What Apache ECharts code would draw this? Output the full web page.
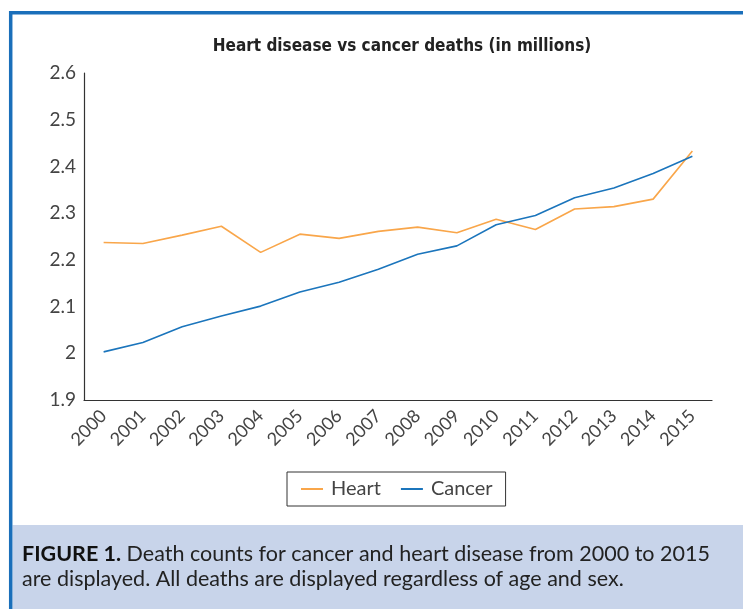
<!DOCTYPE html>
<html>
<head>
<meta charset="utf-8">
<script src="https://cdn.jsdelivr.net/npm/echarts@6/dist/echarts.min.js"></script>
<style>
  html, body { margin: 0; padding: 0; background: #fff; }
  #chart { width: 743px; height: 609px; }
</style>
</head>
<body>
<div id="chart"></div>
<script>
// data
const years = ["2000", "2001", "2002", "2003", "2004", "2005", "2006", "2007",
  "2008", "2009", "2010", "2011", "2012", "2013", "2014", "2015"];
const heart = [2.237, 2.235, 2.253, 2.272, 2.216, 2.255, 2.246, 2.261,
  2.270, 2.258, 2.287, 2.265, 2.309, 2.314, 2.330, 2.433];
const cancer = [2.003, 2.023, 2.057, 2.080, 2.101, 2.131, 2.152, 2.180,
  2.212, 2.230, 2.275, 2.295, 2.333, 2.354, 2.385, 2.422];
const yTicks = ["1.9", "2", "2.1", "2.2", "2.3", "2.4", "2.5", "2.6"];

const font = "Lato, 'Open Sans', sans-serif";

let option = {
  animation: false,
  title: {
    text: "Heart disease vs cancer deaths (in millions)",
    left: 397,
    top: 33,
    textAlign: "center",
    textStyle: {
      fontFamily: "'DejaVu Sans Condensed', 'DejaVu Sans', sans-serif",
      fontSize: 17,
      fontWeight: "bold",
      color: "#222"
    }
  },
  grid: {
    left: 84,
    right: 31,
    top: 73,
    bottom: 209,
    containLabel: false
  },
  legend: {
    left: 287,
    top: 472,
    padding: [7, 13, 7, 14],
    borderColor: "#333",
    borderWidth: 1,
    icon: "rect",
    itemWidth: 22,
    itemHeight: 2,
    itemGap: 20,
    textStyle: {
      fontFamily: font,
      fontSize: 20,
      color: "#444",
      padding: [0, 0, 0, 3]
    },
    data: ["Heart", "Cancer"]
  },
  xAxis: {
    type: "category",
    data: years,
    boundaryGap: true,
    axisLine: { lineStyle: { color: "#333", width: 1.2 } },
    axisTick: { length: 6, lineStyle: { color: "#333" } },
    axisLabel: {
      rotate: 45,
      fontFamily: font,
      fontSize: 18,
      color: "#444",
      margin: 13
    }
  },
  yAxis: {
    type: "value",
    min: 1.9,
    max: 2.6,
    interval: 0.1,
    axisLine: { show: true, lineStyle: { color: "#333", width: 1.2 } },
    axisTick: { show: false },
    splitLine: { show: false },
    axisLabel: {
      fontFamily: font,
      fontSize: 19,
      color: "#444",
      margin: 8,
      formatter: function (v) {
        return yTicks[Math.round((v - 1.9) * 10)];
      }
    }
  },
  series: [
    {
      name: "Heart",
      type: "line",
      data: heart,
      symbol: "none",
      lineStyle: { color: "#f9a64a", width: 1.6 },
      itemStyle: { color: "#f9a64a" }
    },
    {
      name: "Cancer",
      type: "line",
      data: cancer,
      symbol: "none",
      lineStyle: { color: "#1b75bc", width: 1.6 },
      itemStyle: { color: "#1b75bc" }
    }
  ],
  graphic: [
    {
      type: "rect",
      z: -1,
      shape: { x: 12.5, y: 525, width: 731, height: 84 },
      style: { fill: "#c8d4ea" }
    },
    {
      type: "polyline",
      shape: { points: [[10.7, 609], [10.7, 12.7], [743, 12.7]] },
      style: { stroke: "#1a6fba", lineWidth: 3.5, fill: null }
    },
    {
      type: "text",
      left: 22,
      top: 542,
      style: {
        text: "{b|FIGURE 1.} Death counts for cancer and heart disease from 2000 to 2015\nare displayed. All deaths are displayed regardless of age and sex.",
        fontFamily: font,
        fontSize: 21.5,
        lineHeight: 25,
        fill: "#222",
        rich: {
          b: { fontFamily: font, fontSize: 21.5, fontWeight: "bold", fill: "#111" }
        }
      }
    }
  ]
};

let myChart = echarts.init(document.getElementById("chart"));
myChart.setOption(option);
</script>
</body>
</html>
